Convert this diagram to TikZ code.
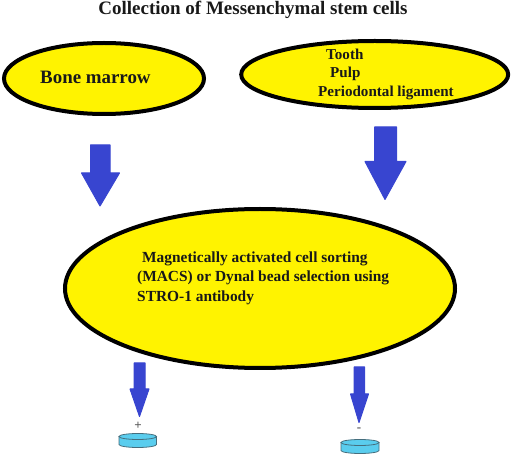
\documentclass[tikz,border=0pt]{standalone}
\usepackage{fontspec}
\usetikzlibrary{shapes.geometric}
\setmainfont{Liberation Serif}
\definecolor{ely}{RGB}{255,243,0}
\definecolor{arb}{RGB}{56,69,208}
\definecolor{dishf}{RGB}{90,205,238}
\definecolor{dishl}{RGB}{70,110,125}
\definecolor{txt}{RGB}{25,25,25}
\tikzset{
  oval/.style={ellipse,draw=black,fill=ely,inner sep=0pt,outer sep=0pt,line width=4pt},
  lbl/.style={inner sep=0pt,font=\bfseries\fontsize{15.1}{17}\selectfont,text=txt,anchor=west},
  mlbl/.style={lbl,font=\bfseries\fontsize{15.4}{17}\selectfont},
  sign/.style={inner sep=0pt,font=\bfseries\fontsize{13}{13}\selectfont,text=black!65},
  blockarrow/.style={fill=arb,draw=arb,line width=1pt,line join=round},
  dish/.style={fill=dishf,draw=dishl,line width=0.8pt}
}
\newcommand{\blockarr}[8]{% shaft l, shaft r, top, head y, head l, head r, tip x, tip y
  \draw[blockarrow] (#1,#3) -- (#2,#3) -- (#2,#4) -- (#6,#4) -- (#7,#8) -- (#5,#4) -- (#1,#4) -- cycle;}
\newcommand{\petri}[4]{% left, right, top, bottom
  \draw[dish] (#1,#3+3) -- (#1,#4-3) arc[start angle=180,end angle=0,x radius={(#2-#1)/2},y radius=3] -- (#2,#3+3) -- cycle;
  \draw[dish] ({(#1+#2)/2},#3+3) ellipse[x radius={(#2-#1)/2},y radius=3];}
\begin{document}
\begin{tikzpicture}[x=1pt,y=-1pt]
\useasboundingbox (0,0) rectangle (512,457);
\node[lbl,anchor=center,font=\bfseries\fontsize{19}{21}\selectfont] (title) at (253,9.5) {Collection of Messenchymal stem cells};
\node[oval,minimum width=200pt,minimum height=71pt] (bone) at (104,78.5) {};
\node[oval,minimum width=267pt,minimum height=67pt] (dental) at (374.7,74.5) {};
\node[oval,minimum width=390pt,minimum height=159pt] (macs) at (260,288.5) {};
\node[lbl,font=\bfseries\fontsize{18.9}{21}\selectfont] (bonet) at (40,77) {Bone marrow};
\node[lbl] (tooth) at (326,54) {Tooth};
\node[lbl] (pulp) at (330,74) {Pulp};
\node[lbl] (perio) at (318,93) {Periodontal ligament};
\node[mlbl] (m1) at (142,259) {Magnetically activated cell sorting};
\node[mlbl] (m2) at (137,278) {(MACS) or Dynal bead selection using};
\node[mlbl] (m3) at (137,298) {STRO-1 antibody};
\blockarr{90.5}{110}{145}{173}{81.5}{119.5}{100}{206}
\blockarr{374.5}{396.5}{127}{161.5}{365}{406}{385}{199.5}
\blockarr{134}{145}{363}{389}{130}{149}{139.5}{416.5}
\blockarr{354}{364.5}{367}{394}{350.5}{368.5}{359}{422.5}
\node[sign] (plus) at (138,426) {+};
\node[sign] (minus) at (359,429.5) {-};
\petri{119}{156.5}{433.5}{447.5}
\petri{341}{379}{439.5}{453.5}
\end{tikzpicture}
\end{document}
